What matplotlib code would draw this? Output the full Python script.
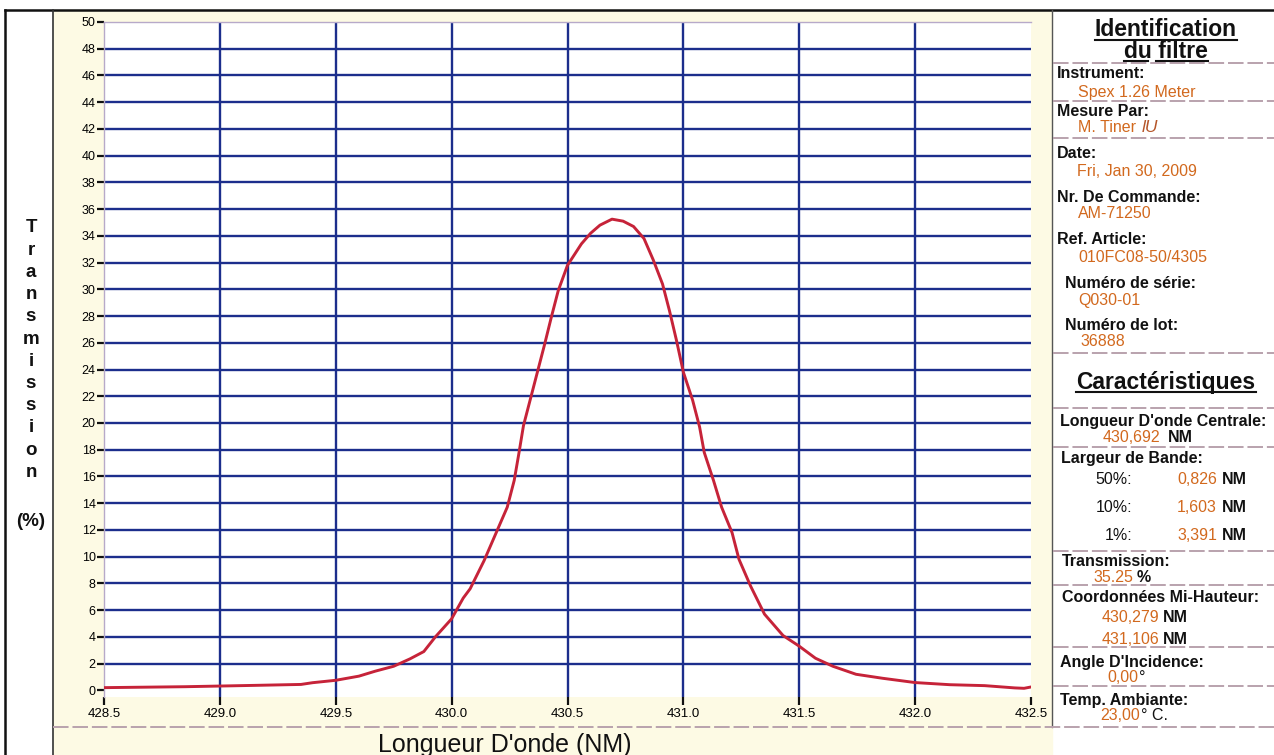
import matplotlib

matplotlib.use("Agg")
import matplotlib.pyplot as plt
from matplotlib.lines import Line2D
from matplotlib.patches import Rectangle

W, H = 1274, 755

# measured transmission curve (nm, %)
wavelength = [428.50, 428.85, 429.00, 429.15, 429.35, 429.40, 429.50, 429.60,
              429.67, 429.75, 429.82, 429.88, 429.93, 430.00, 430.05, 430.08,
              430.14, 430.19, 430.24, 430.27, 430.29, 430.31, 430.34, 430.37,
              430.40, 430.43, 430.46, 430.50, 430.56, 430.60, 430.64, 430.692,
              430.74, 430.785, 430.83, 430.87, 430.91, 430.94, 430.97, 431.00,
              431.04, 431.07, 431.09, 431.13, 431.165, 431.21, 431.24, 431.29,
              431.35, 431.43, 431.50, 431.57, 431.645, 431.745, 431.86, 432.00,
              432.15, 432.30, 432.43, 432.47, 432.50]
transmission = [0.20, 0.27, 0.32, 0.37, 0.44, 0.57, 0.75, 1.06,
                1.43, 1.80, 2.35, 2.90, 4.00, 5.35, 6.90, 7.60,
                9.70, 11.7, 13.7, 15.7, 17.7, 19.8, 21.8, 23.8,
                25.8, 27.9, 29.9, 31.8, 33.4, 34.2, 34.8, 35.25,
                35.1, 34.7, 33.8, 32.2, 30.4, 28.4, 26.2, 23.8,
                21.7, 19.7, 17.8, 15.7, 13.7, 11.8, 9.8, 7.8,
                5.7, 4.1, 3.3, 2.4, 1.8, 1.2, 0.9, 0.58,
                0.42, 0.35, 0.18, 0.15, 0.25]

x_ticks = [428.5, 429.0, 429.5, 430.0, 430.5, 431.0, 431.5, 432.0, 432.5]
y_ticks = list(range(0, 51, 2))
y_title = "Transmission"

INK = "#111111"
GRID = "#1c2e8c"
CURVE = "#c62339"
VALUE = "#d2691e"
RULE = "#b9a2ad"
PAPER = "#fdfae4"
FONT = ["Liberation Sans", "DejaVu Sans"]
NARROW = ["Liberation Sans Narrow", "Liberation Sans", "DejaVu Sans"]
CARD = 11.5

plt.rcParams.update({"font.family": FONT})


def fx(px):
    return px / W


def fy(py):
    return 1 - py / H


def hline(y, x0, x1, **kw):
    fig.add_artist(Line2D([fx(x0), fx(x1)], [fy(y), fy(y)], transform=fig.transFigure, **kw))


def vline(x, y0, y1, **kw):
    fig.add_artist(Line2D([fx(x), fx(x)], [fy(y0), fy(y1)], transform=fig.transFigure, **kw))


fig = plt.figure(figsize=(W / 100, H / 100), dpi=100)
fig.patch.set_facecolor("white")
fig.add_artist(Rectangle((fx(53), fy(755)), fx(1052) - fx(53), fy(10) - fy(755),
                         transform=fig.transFigure, color=PAPER, zorder=0))

# --- main plot ---------------------------------------------------------------
ax = fig.add_axes([fx(104), fy(697), fx(1031) - fx(104), fy(22) - fy(697)])
ax.set_facecolor("white")
ax.set_xlim(x_ticks[0], x_ticks[-1])
ax.set_ylim(-0.5, y_ticks[-1])
for v in y_ticks[1:-1]:
    ax.axhline(v, color=GRID, lw=1.7, zorder=1)
for v in x_ticks[1:-1]:
    ax.axvline(v, color=GRID, lw=1.7, zorder=1)
ax.plot(wavelength, transmission, color=CURVE, lw=2.1, zorder=3,
        solid_joinstyle="round", solid_capstyle="round")

for s in ("right", "bottom"):
    ax.spines[s].set_visible(False)
for s in ("top", "left"):
    ax.spines[s].set_color("#b7a9c9")
    ax.spines[s].set_linewidth(1.0)

ax.set_xticks(x_ticks)
ax.set_xticklabels([f"{v:.1f}" for v in x_ticks], family=NARROW, fontsize=9.5)
ax.set_yticks(y_ticks)
ax.set_yticklabels([str(v) for v in y_ticks], family=NARROW, fontsize=9)
ax.tick_params(axis="x", direction="out", length=6, width=1.6, color=INK, pad=2)
ax.tick_params(axis="y", direction="out", length=5, width=1.6, color=INK, pad=1)

# stacked axis title
for i, ch in enumerate(y_title):
    fig.text(fx(31), fy(228 + i * 22.2), ch, fontsize=13.5, fontweight="bold",
             ha="center", va="center", color=INK)
fig.text(fx(31), fy(522), "(%)", fontsize=13.5, fontweight="bold",
         ha="center", va="center", color=INK)
fig.text(fx(505), fy(745), "Longueur D'onde (NM)", fontsize=18,
         ha="center", va="center", color=INK)

# --- page frame ----------------------------------------------------------------
hline(10, 5, W, color=INK, lw=1.8)
vline(5, 10, H, color=INK, lw=1.8)
vline(53, 10, H, color="#333333", lw=1.2)
vline(1052, 10, 727, color="#555555", lw=1.0)
hline(727, 53, W, color=RULE, lw=1.4, ls=(0, (8, 2)))

# --- filter card ------------------------------------------------------------------
heads = [("Identification", 30), ("du filtre", 51), ("Caractéristiques", 383)]
for text, y in heads:
    fig.text(fx(1166), fy(y), text, fontsize=16.5, fontweight="bold",
             ha="center", va="center", color=INK)

for y in (63, 101, 138, 353, 408, 447, 551, 585, 647, 686):
    hline(y, 1053, W, color=RULE, lw=1.4, ls=(0, (8, 2)))

card_labels = [("Instrument:", 1057, 74), ("Mesure Par:", 1057, 111),
               ("Date:", 1057, 153), ("Nr. De Commande:", 1057, 197),
               ("Ref. Article:", 1057, 240), ("Numéro de série:", 1065, 283),
               ("Numéro de lot:", 1065, 325),
               ("Longueur D'onde Centrale:", 1060, 422),
               ("Largeur de Bande:", 1061, 459), ("Transmission:", 1062, 562),
               ("Coordonnées Mi-Hauteur:", 1062, 598),
               ("Angle D'Incidence:", 1060, 663), ("Temp. Ambiante:", 1060, 700)]
for text, x, y in card_labels:
    fig.text(fx(x), fy(y), text, fontsize=CARD, fontweight="bold",
             ha="left", va="center", color=INK)

card_values = [("Spex 1.26 Meter", 1078, 92), ("Fri, Jan 30, 2009", 1077, 172),
               ("AM-71250", 1078, 214), ("010FC08-50/4305", 1078, 258),
               ("Q030-01", 1078, 300), ("36888", 1080, 342)]
for text, x, y in card_values:
    fig.text(fx(x), fy(y), text, fontsize=CARD, ha="left", va="center", color=VALUE)


def value_unit(x, y, value, unit, gap=3, bold=True):
    t = fig.text(fx(x), fy(y), value, fontsize=CARD, ha="left", va="center", color=VALUE)
    ax.annotate(unit, xy=(1, 0.5), xycoords=t, xytext=(gap, 0), textcoords="offset points",
                fontsize=CARD, fontweight="bold" if bold else "normal",
                ha="left", va="center", color=INK, annotation_clip=False)
    return t


tiner = fig.text(fx(1078), fy(128), "M. Tiner", fontsize=CARD, ha="left", va="center", color=VALUE)
ax.annotate("lU", xy=(1, 0.5), xycoords=tiner, xytext=(4, 0), textcoords="offset points",
            fontsize=12.5, style="italic", ha="left", va="center", color="#b5562a",
            annotation_clip=False)

value_unit(1103, 438, "430,692", "NM", gap=5)
bands = [("50%:", "0,826", 480), ("10%:", "1,603", 508), ("1%:", "3,391", 535)]
for pct, val, y in bands:
    fig.text(fx(1132), fy(y), pct, fontsize=CARD, ha="right", va="center", color=INK)
    fig.text(fx(1217), fy(y), val, fontsize=CARD, ha="right", va="center", color=VALUE)
    fig.text(fx(1222), fy(y), "NM", fontsize=CARD, fontweight="bold",
             ha="left", va="center", color=INK)
value_unit(1093, 577, "35.25", "%", gap=3)
value_unit(1102, 618, "430,279", "NM", gap=2)
value_unit(1102, 639, "431,106", "NM", gap=2)
value_unit(1107, 678, "0,00", "°", gap=1, bold=False)
value_unit(1100, 715, "23,00", "° C.", gap=1, bold=False)

# underline the card headings
fig.canvas.draw()
r = fig.canvas.get_renderer()
for t in fig.texts:
    if t.get_text() in ("Identification", "du filtre", "Caractéristiques"):
        bb = t.get_window_extent(r)
        y0 = bb.y0 + 2
        if t.get_text() == "du filtre":
            span = bb.x1 - bb.x0
            cut = bb.x0 + span * 0.29
            segs = [(bb.x0, cut), (cut + span * 0.09, bb.x1)]
        else:
            segs = [(bb.x0, bb.x1)]
        for a, b in segs:
            fig.add_artist(Line2D([a / W, b / W], [y0 / H, y0 / H],
                                  transform=fig.transFigure, color=INK, lw=1.5))

fig.savefig("out.png", dpi=100, facecolor="white")
